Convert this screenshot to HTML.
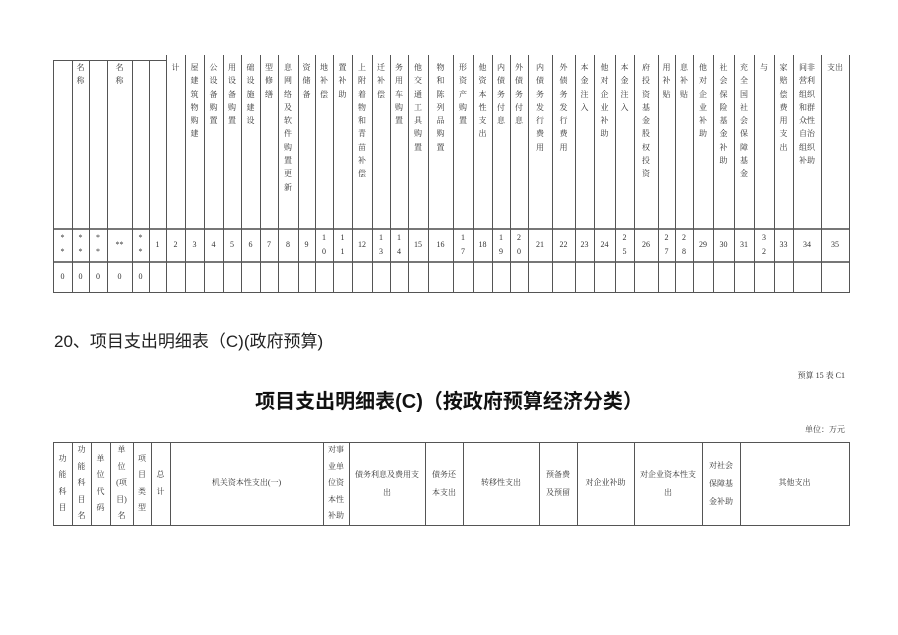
<!DOCTYPE html>
<html><head><meta charset="utf-8"><style>
body{margin:0;width:898px;height:635px;background:#fff;position:relative;overflow:hidden;font-family:"Liberation Serif","Noto Serif CJK SC",serif;color:#333}
.v{position:absolute;width:1px;background:#555}
.h{position:absolute;height:1px;background:#555}
.t{position:absolute;text-align:center;font-size:8px;line-height:13.3px}
.n{position:absolute;text-align:center;font-size:8px;line-height:14px}
.b{position:absolute;text-align:center;font-size:8px;line-height:16.5px;display:flex;align-items:center;justify-content:center}
</style></head><body>

<!-- top table lines -->
<div class="h" style="left:53px;top:60px;width:114px"></div>
<div class="h" style="left:53px;top:228px;width:797px;height:2px;background:#777"></div>
<div class="h" style="left:53px;top:261px;width:797px;height:2px;background:#777"></div>
<div class="h" style="left:53px;top:292px;width:797px"></div>

<div class="v" style="left:53px;top:60px;height:233px"></div>
<div class="v" style="left:72px;top:60px;height:233px"></div>
<div class="v" style="left:89px;top:60px;height:233px"></div>
<div class="v" style="left:107px;top:60px;height:233px"></div>
<div class="v" style="left:132px;top:60px;height:233px"></div>
<div class="v" style="left:149px;top:60px;height:233px"></div>
<div class="v" style="left:166px;top:55px;height:238px"></div>
<div class="v" style="left:185px;top:55px;height:238px"></div>
<div class="v" style="left:204px;top:55px;height:238px"></div>
<div class="v" style="left:223px;top:55px;height:238px"></div>
<div class="v" style="left:241px;top:55px;height:238px"></div>
<div class="v" style="left:260px;top:55px;height:238px"></div>
<div class="v" style="left:278px;top:55px;height:238px"></div>
<div class="v" style="left:298px;top:55px;height:238px"></div>
<div class="v" style="left:315px;top:55px;height:238px"></div>
<div class="v" style="left:333px;top:55px;height:238px"></div>
<div class="v" style="left:352px;top:55px;height:238px"></div>
<div class="v" style="left:372px;top:55px;height:238px"></div>
<div class="v" style="left:390px;top:55px;height:238px"></div>
<div class="v" style="left:408px;top:55px;height:238px"></div>
<div class="v" style="left:428px;top:55px;height:238px"></div>
<div class="v" style="left:453px;top:55px;height:238px"></div>
<div class="v" style="left:473px;top:55px;height:238px"></div>
<div class="v" style="left:492px;top:55px;height:238px"></div>
<div class="v" style="left:510px;top:55px;height:238px"></div>
<div class="v" style="left:528px;top:55px;height:238px"></div>
<div class="v" style="left:552px;top:55px;height:238px"></div>
<div class="v" style="left:575px;top:55px;height:238px"></div>
<div class="v" style="left:594px;top:55px;height:238px"></div>
<div class="v" style="left:615px;top:55px;height:238px"></div>
<div class="v" style="left:634px;top:55px;height:238px"></div>
<div class="v" style="left:658px;top:55px;height:238px"></div>
<div class="v" style="left:675px;top:55px;height:238px"></div>
<div class="v" style="left:693px;top:55px;height:238px"></div>
<div class="v" style="left:713px;top:55px;height:238px"></div>
<div class="v" style="left:734px;top:55px;height:238px"></div>
<div class="v" style="left:754px;top:55px;height:238px"></div>
<div class="v" style="left:774px;top:55px;height:238px"></div>
<div class="v" style="left:793px;top:55px;height:238px"></div>
<div class="v" style="left:821px;top:55px;height:238px"></div>
<div class="v" style="left:849px;top:55px;height:238px"></div>

<!-- header texts -->
<div class="t" style="left:72px;width:17px;top:61px">名<br>称</div>
<div class="t" style="left:107px;width:25px;top:61px">名<br>称</div>
<div class="t" style="left:166px;width:19px;top:61px">计</div>
<div class="t" style="left:185px;width:19px;top:61px">屋<br>建<br>筑<br>物<br>购<br>建</div>
<div class="t" style="left:204px;width:19px;top:61px">公<br>设<br>备<br>购<br>置</div>
<div class="t" style="left:223px;width:18px;top:61px">用<br>设<br>备<br>购<br>置</div>
<div class="t" style="left:241px;width:19px;top:61px">础<br>设<br>施<br>建<br>设</div>
<div class="t" style="left:260px;width:18px;top:61px">型<br>修<br>缮</div>
<div class="t" style="left:278px;width:20px;top:61px">息<br>网<br>络<br>及<br>软<br>件<br>购<br>置<br>更<br>新</div>
<div class="t" style="left:298px;width:17px;top:61px">资<br>储<br>备</div>
<div class="t" style="left:315px;width:18px;top:61px">地<br>补<br>偿</div>
<div class="t" style="left:333px;width:19px;top:61px">置<br>补<br>助</div>
<div class="t" style="left:352px;width:20px;top:61px">上<br>附<br>着<br>物<br>和<br>青<br>苗<br>补<br>偿</div>
<div class="t" style="left:372px;width:18px;top:61px">迁<br>补<br>偿</div>
<div class="t" style="left:390px;width:18px;top:61px">务<br>用<br>车<br>购<br>置</div>
<div class="t" style="left:408px;width:20px;top:61px">他<br>交<br>通<br>工<br>具<br>购<br>置</div>
<div class="t" style="left:428px;width:25px;top:61px">物<br>和<br>陈<br>列<br>品<br>购<br>置</div>
<div class="t" style="left:453px;width:20px;top:61px">形<br>资<br>产<br>购<br>置</div>
<div class="t" style="left:473px;width:19px;top:61px">他<br>资<br>本<br>性<br>支<br>出</div>
<div class="t" style="left:492px;width:18px;top:61px">内<br>债<br>务<br>付<br>息</div>
<div class="t" style="left:510px;width:18px;top:61px">外<br>债<br>务<br>付<br>息</div>
<div class="t" style="left:528px;width:24px;top:61px">内<br>债<br>务<br>发<br>行<br>费<br>用</div>
<div class="t" style="left:552px;width:23px;top:61px">外<br>债<br>务<br>发<br>行<br>费<br>用</div>
<div class="t" style="left:575px;width:19px;top:61px">本<br>金<br>注<br>入</div>
<div class="t" style="left:594px;width:21px;top:61px">他<br>对<br>企<br>业<br>补<br>助</div>
<div class="t" style="left:615px;width:19px;top:61px">本<br>金<br>注<br>入</div>
<div class="t" style="left:634px;width:24px;top:61px">府<br>投<br>资<br>基<br>金<br>股<br>权<br>投<br>资</div>
<div class="t" style="left:658px;width:17px;top:61px">用<br>补<br>贴</div>
<div class="t" style="left:675px;width:18px;top:61px">息<br>补<br>贴</div>
<div class="t" style="left:693px;width:20px;top:61px">他<br>对<br>企<br>业<br>补<br>助</div>
<div class="t" style="left:713px;width:21px;top:61px">社<br>会<br>保<br>险<br>基<br>金<br>补<br>助</div>
<div class="t" style="left:734px;width:20px;top:61px">充<br>全<br>国<br>社<br>会<br>保<br>障<br>基<br>金</div>
<div class="t" style="left:754px;width:20px;top:61px">与</div>
<div class="t" style="left:774px;width:19px;top:61px">家<br>赔<br>偿<br>费<br>用<br>支<br>出</div>
<div class="t" style="left:793px;width:28px;top:61px">间非<br>营利<br>组织<br>和群<br>众性<br>自治<br>组织<br>补助</div>
<div class="t" style="left:821px;width:28px;top:61px">支出</div>

<!-- number row -->
<div class="n" style="left:53px;width:19px;top:231px">*<br>*</div>
<div class="n" style="left:72px;width:17px;top:231px">*<br>*</div>
<div class="n" style="left:89px;width:18px;top:231px">*<br>*</div>
<div class="n" style="left:107px;width:25px;top:238px">**</div>
<div class="n" style="left:132px;width:17px;top:231px">*<br>*</div>
<div class="n" style="left:149px;width:17px;top:238px">1</div>
<div class="n" style="left:166px;width:19px;top:238px">2</div>
<div class="n" style="left:185px;width:19px;top:238px">3</div>
<div class="n" style="left:204px;width:19px;top:238px">4</div>
<div class="n" style="left:223px;width:18px;top:238px">5</div>
<div class="n" style="left:241px;width:19px;top:238px">6</div>
<div class="n" style="left:260px;width:18px;top:238px">7</div>
<div class="n" style="left:278px;width:20px;top:238px">8</div>
<div class="n" style="left:298px;width:17px;top:238px">9</div>
<div class="n" style="left:315px;width:18px;top:231px">1<br>0</div>
<div class="n" style="left:333px;width:19px;top:231px">1<br>1</div>
<div class="n" style="left:352px;width:20px;top:238px">12</div>
<div class="n" style="left:372px;width:18px;top:231px">1<br>3</div>
<div class="n" style="left:390px;width:18px;top:231px">1<br>4</div>
<div class="n" style="left:408px;width:20px;top:238px">15</div>
<div class="n" style="left:428px;width:25px;top:238px">16</div>
<div class="n" style="left:453px;width:20px;top:231px">1<br>7</div>
<div class="n" style="left:473px;width:19px;top:238px">18</div>
<div class="n" style="left:492px;width:18px;top:231px">1<br>9</div>
<div class="n" style="left:510px;width:18px;top:231px">2<br>0</div>
<div class="n" style="left:528px;width:24px;top:238px">21</div>
<div class="n" style="left:552px;width:23px;top:238px">22</div>
<div class="n" style="left:575px;width:19px;top:238px">23</div>
<div class="n" style="left:594px;width:21px;top:238px">24</div>
<div class="n" style="left:615px;width:19px;top:231px">2<br>5</div>
<div class="n" style="left:634px;width:24px;top:238px">26</div>
<div class="n" style="left:658px;width:17px;top:231px">2<br>7</div>
<div class="n" style="left:675px;width:18px;top:231px">2<br>8</div>
<div class="n" style="left:693px;width:20px;top:238px">29</div>
<div class="n" style="left:713px;width:21px;top:238px">30</div>
<div class="n" style="left:734px;width:20px;top:238px">31</div>
<div class="n" style="left:754px;width:20px;top:231px">3<br>2</div>
<div class="n" style="left:774px;width:19px;top:238px">33</div>
<div class="n" style="left:793px;width:28px;top:238px">34</div>
<div class="n" style="left:821px;width:28px;top:238px">35</div>

<div class="n" style="left:53px;width:19px;top:270px">0</div>
<div class="n" style="left:72px;width:17px;top:270px">0</div>
<div class="n" style="left:89px;width:18px;top:270px">0</div>
<div class="n" style="left:107px;width:25px;top:270px">0</div>
<div class="n" style="left:132px;width:17px;top:270px">0</div>

<!-- titles -->
<div style="position:absolute;left:54px;top:331px;font-family:'Liberation Sans','Noto Sans CJK SC',sans-serif;font-size:17px;line-height:22px;color:#222">20、项目支出明细表（C)(政府预算)</div>
<div style="position:absolute;right:53px;top:370px;font-size:8px;line-height:12px">预算 15 表 C1</div>
<div style="position:absolute;left:0;width:898px;top:388px;text-align:center;font-family:'Liberation Sans','Noto Sans CJK SC',sans-serif;font-weight:bold;font-size:20px;line-height:28px;color:#111">项目支出明细表(C)（按政府预算经济分类）</div>
<div style="position:absolute;right:53px;top:424px;font-size:8px;line-height:12px">单位：万元</div>

<!-- bottom table -->
<div class="h" style="left:53px;top:442px;width:797px"></div>
<div class="h" style="left:53px;top:525px;width:797px"></div>
<div class="v" style="left:53px;top:442px;height:84px"></div>
<div class="v" style="left:72px;top:442px;height:84px"></div>
<div class="v" style="left:91px;top:442px;height:84px"></div>
<div class="v" style="left:110px;top:442px;height:84px"></div>
<div class="v" style="left:133px;top:442px;height:84px"></div>
<div class="v" style="left:151px;top:442px;height:84px"></div>
<div class="v" style="left:170px;top:442px;height:84px"></div>
<div class="v" style="left:323px;top:442px;height:84px"></div>
<div class="v" style="left:349px;top:442px;height:84px"></div>
<div class="v" style="left:425px;top:442px;height:84px"></div>
<div class="v" style="left:463px;top:442px;height:84px"></div>
<div class="v" style="left:539px;top:442px;height:84px"></div>
<div class="v" style="left:577px;top:442px;height:84px"></div>
<div class="v" style="left:634px;top:442px;height:84px"></div>
<div class="v" style="left:702px;top:442px;height:84px"></div>
<div class="v" style="left:740px;top:442px;height:84px"></div>
<div class="v" style="left:849px;top:442px;height:84px"></div>

<div class="b" style="left:53px;width:19px;top:442px;height:83px">功<br>能<br>科<br>目</div>
<div class="b" style="left:72px;width:19px;top:442px;height:83px">功<br>能<br>科<br>目<br>名</div>
<div class="b" style="left:91px;width:19px;top:442px;height:83px">单<br>位<br>代<br>码</div>
<div class="b" style="left:110px;width:23px;top:442px;height:83px">单<br>位<br>(项<br>目)<br>名</div>
<div class="b" style="left:133px;width:18px;top:442px;height:83px">项<br>目<br>类<br>型</div>
<div class="b" style="left:151px;width:19px;top:442px;height:83px">总<br>计</div>
<div class="b" style="left:170px;width:153px;top:442px;height:83px">机关资本性支出(一)</div>
<div class="b" style="left:323px;width:26px;top:442px;height:83px">对事<br>业单<br>位资<br>本性<br>补助</div>
<div class="b" style="left:349px;width:76px;top:442px;height:83px;line-height:18px">债务利息及费用支<br>出</div>
<div class="b" style="left:425px;width:38px;top:442px;height:83px;line-height:18px">债务还<br>本支出</div>
<div class="b" style="left:463px;width:76px;top:442px;height:83px">转移性支出</div>
<div class="b" style="left:539px;width:38px;top:442px;height:83px;line-height:18px">预备费<br>及预留</div>
<div class="b" style="left:577px;width:57px;top:442px;height:83px">对企业补助</div>
<div class="b" style="left:634px;width:68px;top:442px;height:83px;line-height:18px">对企业资本性支<br>出</div>
<div class="b" style="left:702px;width:38px;top:442px;height:83px;line-height:18px">对社会<br>保障基<br>金补助</div>
<div class="b" style="left:740px;width:109px;top:442px;height:83px">其他支出</div>

</body></html>
